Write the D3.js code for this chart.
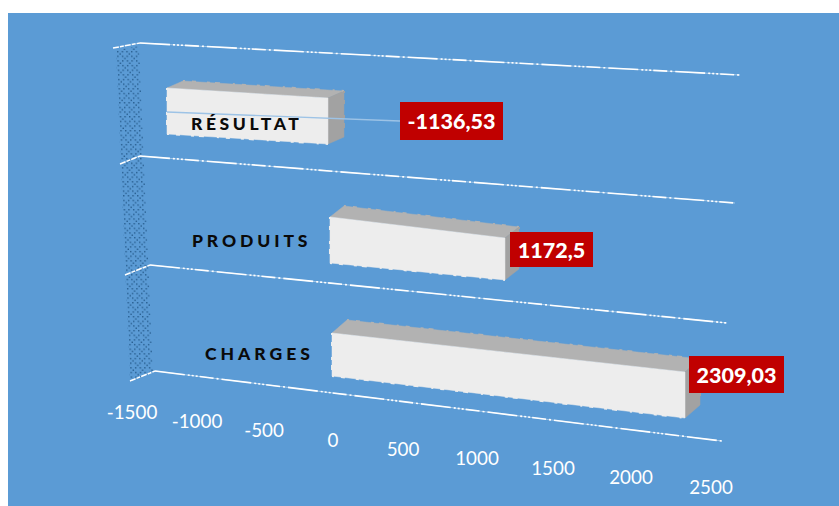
<!DOCTYPE html>
<html><head><meta charset="utf-8">
<script src="https://cdnjs.cloudflare.com/ajax/libs/d3/7.8.5/d3.min.js"></script>
<style>html,body{margin:0;padding:0;background:#fff}svg{display:block}</style>
</head><body><svg id="c" width="839" height="506"></svg>
<script>
const categories = ["RÉSULTAT", "PRODUITS", "CHARGES"];
const values = [-1136.53, 1172.5, 2309.03];
const valueLabels = ["-1136,53", "1172,5", "2309,03"];
const tickValues = [-1500, -1000, -500, 0, 500, 1000, 1500, 2000, 2500];

const W = 839, H = 506;
const svg = d3.select("#c");
const extent = [-1500, 2500];

// Perspective per row: horizontal position and front-face top / bottom edge.
const rowGeom = [
  { x: [115.5, 682.1], top: [84.8, 120], bot: [130.8, 166], dx: 16, dy: -7 },
  { x: [106.1, 703.1], top: [190.1, 261.8], bot: [241.2, 299.2], dx: 14, dy: -11 },
  { x: [102.7, 714.2], top: [307.7, 375.2], bot: [348.7, 421.5], dx: 15, dy: -13 }
];
const rows = rowGeom.map(g => ({
  x: d3.scaleLinear().domain(extent).range(g.x),
  top: d3.scaleLinear().domain(extent).range(g.top),
  bot: d3.scaleLinear().domain(extent).range(g.bot),
  dx: g.dx, dy: g.dy
}));

// Rails (gridlines on the floor / shelves)
const railGeom = [
  { x: [140, 740], y: [43, 75], stub: [113, 48] },
  { x: [140, 735], y: [156, 203], stub: [120, 164] },
  { x: [150, 727], y: [265, 323], stub: [125, 275] },
  { x: [155, 722], y: [371, 441], stub: [130, 381] }
];

// Tick labels follow the foreshortened axis
const tickX = d3.scaleLinear().domain(tickValues).range([132, 197, 264, 333, 403, 477, 553, 631, 711]);
const tickY = d3.scaleLinear().domain(extent).range([412, 487]);

svg.append("rect").attr("x", 8).attr("y", 13).attr("width", W - 8).attr("height", H - 13).attr("fill", "#5B9BD5");

// Dotted wall
const defs = svg.append("defs");
const pat = defs.append("pattern").attr("id", "wall").attr("patternUnits", "userSpaceOnUse")
  .attr("width", 9.3).attr("height", 9.3).attr("patternTransform", "translate(116,50) skewX(2.4)");
[[1, 1], [5.65, 1], [3.3, 3.3], [1, 5.65], [5.65, 5.65], [7.9, 7.9]].forEach(d => {
  pat.append("rect").attr("x", d[0]).attr("y", d[1]).attr("width", 1.3).attr("height", 1.3).attr("fill", "#1f5484");
});
svg.append("path").attr("d", "M116,50L139,46L153,372L130,382Z").attr("fill", "url(#wall)");

// Rails
const line = d3.line();
railGeom.forEach(r => {
  const gx = d3.scaleLinear().domain(extent).range(r.x);
  const gy = d3.scaleLinear().domain(extent).range(r.y);
  svg.append("path").attr("d", line([r.stub, [gx(-1500), gy(-1500)]]))
    .attr("fill", "none").attr("stroke", "#fff").attr("stroke-width", 1.5).attr("stroke-dasharray", "6 1 4 1");
  const seg = line([[gx(-1500), gy(-1500)], [gx(2500), gy(2500)]]);
  svg.append("path").attr("d", seg).attr("fill", "none").attr("stroke", "#fff")
    .attr("stroke-width", 0.8).attr("opacity", 0.55);
  svg.append("path").attr("d", seg).attr("fill", "none").attr("stroke", "#fff")
    .attr("stroke-width", 1.6).attr("stroke-dasharray", "30 3 2 2 2 2 2 2 14 3 2 3");
});

// Bars
const barG = svg.append("g");
values.forEach((v, i) => {
  const r = rows[i], a = Math.min(0, v), b = Math.max(0, v);
  const tl = [r.x(a), r.top(a)], tr = [r.x(b), r.top(b)], br = [r.x(b), r.bot(b)], bl = [r.x(a), r.bot(a)];
  const off = p => [p[0] + r.dx, p[1] + r.dy];
  const poly = (pts, fill) => {
    barG.append("path").attr("d", line(pts) + "Z").attr("fill", fill).attr("stroke", fill).attr("stroke-width", 0.5);
  };
  poly([tl, off(tl), off(tr), tr], "#B2B2B2");
  poly([tr, off(tr), off(br), br], "#A2A2A2");
  poly([tl, tr, br, bl], "#EDEDED");
  // dithered edges
  const edge = (p, q, col) => barG.append("path").attr("d", line([p, q])).attr("fill", "none")
    .attr("stroke", col).attr("stroke-width", 2).attr("stroke-dasharray", "2 7 4 11 3 5 5 13");
  edge(off(tl), off(tr), "#B2B2B2");
  edge(bl, br, "#EDEDED");
  edge(tl, bl, "#EDEDED");
  edge(off(tr), off(br), "#A2A2A2");
});

// Leader line of the negative value label
const lead = d3.scaleLinear().domain([-1136.53, 0]).range([112, 121]);
const leadX = d3.scaleLinear().domain([-1136.53, 0]).range([167, 400]);
svg.append("path").attr("d", line([[leadX(values[0]), lead(values[0])], [leadX(0), lead(0)]]))
  .attr("fill", "none").attr("stroke", "#9DC3E6").attr("stroke-width", 1.4);

// Category labels
const catPos = [[191, 130], [192, 247], [205, 360]];
svg.append("g").selectAll("text").data(categories).join("text")
  .attr("x", (d, i) => catPos[i][0]).attr("y", (d, i) => catPos[i][1])
  .attr("font-family", "Lato, sans-serif").attr("font-weight", 900).attr("font-size", 17.5)
  .attr("letter-spacing", (d, i) => [3.6, 3.9, 4.0][i])
  .attr("fill", "#0a0a0a").text(d => d);

// Value labels
const labelBox = [[400, 102, 103, 38], [510, 232, 83, 35], [689, 356, 95, 37]];
const lg = svg.append("g").selectAll("g").data(valueLabels).join("g");
lg.append("rect").attr("x", (d, i) => labelBox[i][0]).attr("y", (d, i) => labelBox[i][1])
  .attr("width", (d, i) => labelBox[i][2]).attr("height", (d, i) => labelBox[i][3]).attr("fill", "#C00000");
lg.append("text").attr("x", (d, i) => labelBox[i][0] + labelBox[i][2] / 2)
  .attr("y", (d, i) => labelBox[i][1] + labelBox[i][3] / 2 + 8)
  .attr("text-anchor", "middle").attr("font-family", "Lato, sans-serif").attr("font-weight", 900)
  .attr("font-size", 21.5).attr("fill", "#fff").text(d => d);

// Axis tick labels
svg.append("g").selectAll("text").data(tickValues).join("text")
  .attr("x", d => tickX(d)).attr("y", d => tickY(d) + 6.5)
  .attr("text-anchor", "middle").attr("font-family", "Lato, sans-serif")
  .attr("font-size", 18.8).attr("fill", "#fff").text(d => d);
</script></body></html>
